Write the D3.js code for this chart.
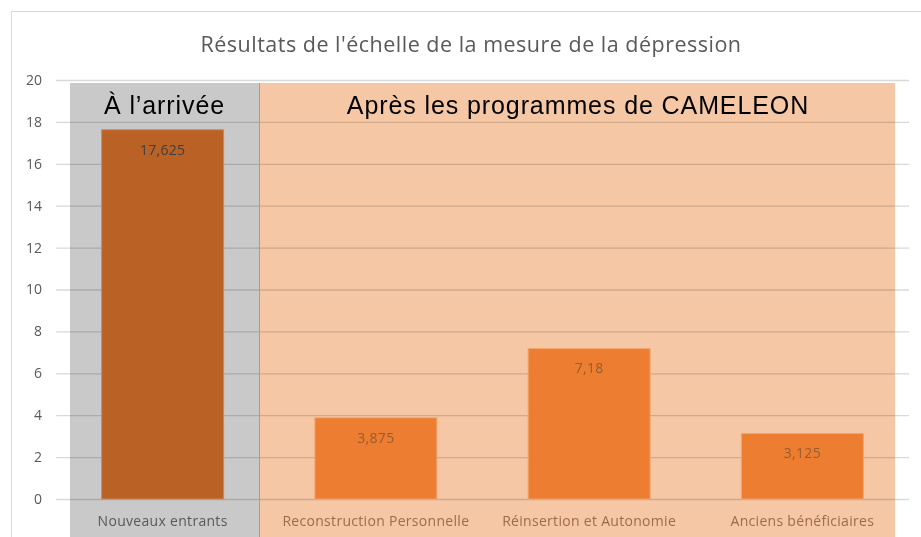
<!DOCTYPE html>
<html>
<head>
<meta charset="utf-8">
<script src="https://cdn.jsdelivr.net/npm/d3@7"></script>
<style>
  body { margin: 0; background: #fff; }
  svg { display: block; }
</style>
</head>
<body>
<svg id="chart" width="921" height="537"></svg>
<script>
// data
const categories = ["Nouveaux entrants", "Reconstruction Personnelle", "Réinsertion et Autonomie", "Anciens bénéficiaires"];
const values = [17.625, 3.875, 7.18, 3.125];
const valueLabels = ["17,625", "3,875", "7,18", "3,125"];
const yTicks = [0, 2, 4, 6, 8, 10, 12, 14, 16, 18, 20];
const title = "Résultats de l'échelle de la mesure de la dépression";
const groups = [
  { name: "À l’arrivée", first: 0, last: 0, fill: "#C9C9C9" },
  { name: "Après les programmes de CAMELEON", first: 1, last: 3, fill: "#F5C7A5" }
];

const svg = d3.select("#chart");
const font = "Open Sans, sans-serif";

// chart frame
svg.append("rect")
  .attr("x", 11.5).attr("y", 11.5)
  .attr("width", 930).attr("height", 540)
  .attr("fill", "#fff").attr("stroke", "#D9D9D9");

const x = d3.scaleBand().domain(categories).range([56, 909]);
const y = d3.scaleLinear().domain([0, 20]).range([499, 80]);
const barW = x.bandwidth() * 0.572;

// gridlines
svg.append("g").selectAll("line")
  .data(yTicks)
  .enter().append("line")
  .attr("x1", 56).attr("x2", 909)
  .attr("y1", d => y(d) + 0.5).attr("y2", d => y(d) + 0.5)
  .attr("stroke", "#D9D9D9").attr("stroke-width", 1.3);

// y tick labels
svg.append("g").selectAll("text")
  .data(yTicks)
  .enter().append("text")
  .attr("x", 42).attr("y", d => y(d))
  .attr("dy", "0.35em")
  .attr("text-anchor", "end")
  .attr("font-family", font).attr("font-size", 14)
  .attr("fill", "#595959")
  .text(d => d);

// group background boxes
const gx0 = [70, 259];
const gx1 = [259, 895];
svg.append("g").selectAll("rect")
  .data(groups)
  .enter().append("rect")
  .attr("x", (d, i) => gx0[i])
  .attr("y", y(20) + 3)
  .attr("width", (d, i) => gx1[i] - gx0[i])
  .attr("height", 537 - y(20))
  .attr("fill", d => d.fill)
  .style("mix-blend-mode", "multiply");

svg.append("line")
  .attr("x1", 259.5).attr("x2", 259.5)
  .attr("y1", y(20) + 3).attr("y2", 537)
  .attr("stroke", "#B39A88").attr("stroke-width", 1);

// group headers
svg.append("g").selectAll("text")
  .data(groups)
  .enter().append("text")
  .attr("x", (d, i) => (gx0[i] + gx1[i]) / 2 + (i ? 1 : 0))
  .attr("y", 114)
  .attr("text-anchor", "middle")
  .attr("font-family", "Liberation Sans, Arial, sans-serif")
  .attr("font-size", 25)
  .attr("letter-spacing", 0.9)
  .attr("fill", "#000")
  .text(d => d.name);

// bars
const barFill = ["#BA6125", "#ED7D31", "#ED7D31", "#ED7D31"];
svg.append("g").selectAll("rect")
  .data(values)
  .enter().append("rect")
  .attr("x", (d, i) => x(categories[i]) + (x.bandwidth() - barW) / 2)
  .attr("y", d => y(d))
  .attr("width", barW)
  .attr("height", d => y(0) - y(d))
  .attr("fill", (d, i) => barFill[i])
  .attr("stroke", (d, i) => i ? "#F3A56E" : "#C98A5E")
  .attr("stroke-width", 1);

// data labels
svg.append("g").selectAll("text")
  .data(values)
  .enter().append("text")
  .attr("x", (d, i) => x(categories[i]) + x.bandwidth() / 2)
  .attr("y", d => y(d) + 20)
  .attr("dy", "0.35em")
  .attr("text-anchor", "middle")
  .attr("font-family", font).attr("font-size", 14)
  .attr("letter-spacing", 0.3)
  .attr("fill", (d, i) => i ? "#9A5B2E" : "#3F3F3F")
  .text((d, i) => valueLabels[i]);

// category labels
svg.append("g").selectAll("text")
  .data(categories)
  .enter().append("text")
  .attr("x", d => x(d) + x.bandwidth() / 2)
  .attr("y", 521)
  .attr("dy", "0.35em")
  .attr("text-anchor", "middle")
  .attr("font-family", font).attr("font-size", 14)
  .attr("letter-spacing", 0.3)
  .attr("fill", (d, i) => i ? "#A06B47" : "#595959")
  .text(d => d);

// title
svg.append("text")
  .attr("x", 471).attr("y", 44)
  .attr("dy", "0.35em")
  .attr("text-anchor", "middle")
  .attr("font-family", font).attr("font-size", 21.5)
  .attr("letter-spacing", 0.5)
  .attr("fill", "#595959")
  .text(title);
</script>
</body>
</html>
